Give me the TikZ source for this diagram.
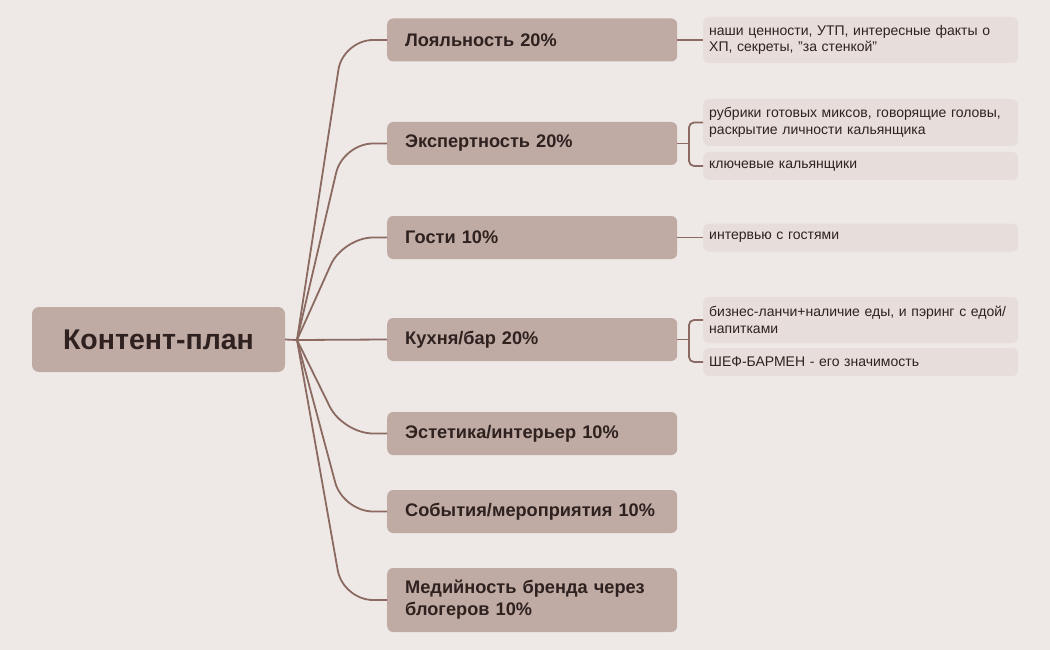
\documentclass[tikz,border=0pt]{standalone}
\usepackage{fontspec}
\setmainfont{Liberation Sans}
\definecolor{bg}{RGB}{238,233,230}
\definecolor{mainfill}{RGB}{192,171,164}
\definecolor{leaffill}{RGB}{231,222,219}
\definecolor{linec}{RGB}{139,106,97}
\definecolor{txt}{RGB}{46,33,31}
\tikzset{
  rootbox/.style={fill=mainfill, rounded corners=7pt, minimum width=253pt, minimum height=65pt, inner sep=0pt, text=txt, font=\bfseries\fontsize{28.5}{32}\selectfont},
  mainbox/.style={fill=mainfill, rounded corners=6pt, anchor=west, text width=254pt, inner xsep=18pt, inner ysep=0pt, minimum height=43pt, align=left, text=txt, font=\bfseries\fontsize{18.2}{22}\selectfont},
  leafbox/.style={fill=leaffill, rounded corners=6pt, anchor=west, text width=303pt, inner xsep=6pt, inner ysep=0pt, minimum height=28pt, align=left, text=txt, font=\fontsize{14}{16.5}\selectfont},
  conn/.style={draw=linec, line width=1.8pt},
}
\begin{document}
\begin{tikzpicture}[x=1pt,y=-1pt]
\fill[bg] (0,0) rectangle (1050,650);
\useasboundingbox (0,0) rectangle (1050,650);

\node[rootbox] (root) at (158.5,339.5) {Контент-план};
\coordinate (J) at (297,340);

\node[mainbox] (m1) at (387,40) {Лояльность 20\%};
\node[mainbox] (m2) at (387,143.5) {Экспертность 20\%};
\node[mainbox] (m3) at (387,237.5) {Гости 10\%};
\node[mainbox] (m4) at (387,339.5) {Кухня/бар 20\%};
\node[mainbox] (m5) at (387,433.5) {Эстетика/интерьер 10\%};
\node[mainbox] (m6) at (387,511.5) {События/мероприятия 10\%};
\node[mainbox, minimum height=64pt] (m7) at (387,600) {Медийность бренда через\\блогеров 10\%};

\node[leafbox, minimum height=46pt] (l1) at (703,40) {наши ценности, УТП, интересные факты о\\ХП, секреты, "за стенкой"};
\node[leafbox, minimum height=47pt] (l2a) at (703,122.5) {рубрики готовых миксов, говорящие головы,\\раскрытие личности кальянщика};
\node[leafbox] (l2b) at (703,166) {\raisebox{-1.5pt}{ключевые кальянщики}};
\node[leafbox] (l3) at (703,237.5) {\raisebox{-1.5pt}{интервью с гостями}};
\node[leafbox, minimum height=46pt] (l4a) at (703,320) {бизнес-ланчи+наличие еды, и пэринг с едой/\\напитками};
\node[leafbox] (l4b) at (703,362) {\raisebox{-1.5pt}{ШЕФ-БАРМЕН - его значимость}};

\draw[conn] (root.east) -- (J);
\foreach \m in {m1,m2,m3,m5,m6,m7}{
  \draw[conn, rounded corners=30pt] (J) -- ([xshift=-44pt]\m.west) -- (\m.west);
}
\draw[conn] (J) -- (m4.west);

\draw[conn] (m1.east) -- (l1.west);
\draw[conn] (m3.east) -- (l3.west);

\coordinate (b2) at (689,143.5);
\draw[conn] (m2.east) -- (b2);
\draw[conn, rounded corners=5pt] (l2a.west) -| (b2) |- (l2b.west);

\coordinate (b4) at (689,339.5);
\draw[conn] (m4.east) -- (b4);
\draw[conn, rounded corners=5pt] (l4a.west) -| (b4) |- (l4b.west);
\end{tikzpicture}
\end{document}
